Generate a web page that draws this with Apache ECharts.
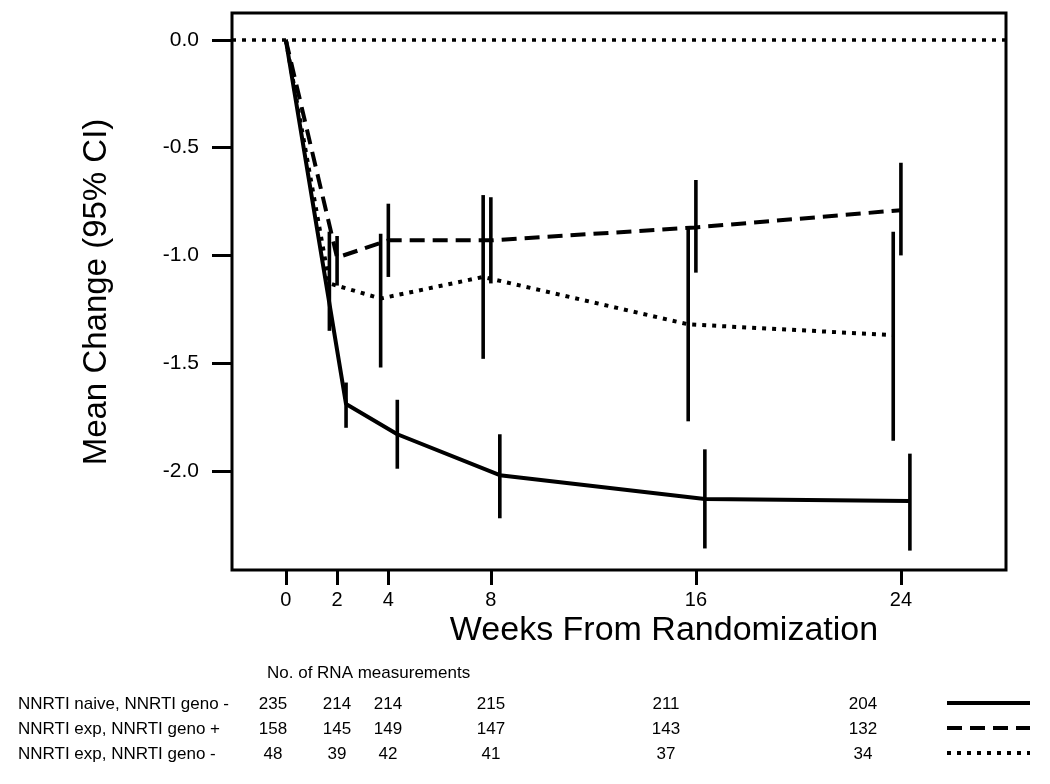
<!DOCTYPE html>
<html>
<head>
<meta charset="utf-8">
<script src="https://cdn.jsdelivr.net/npm/echarts@6/dist/echarts.min.js"></script>
<style>
  html, body { margin: 0; padding: 0; background: #fff; }
  #main { width: 1050px; height: 784px; }
</style>
</head>
<body>
<div id="main"></div>
<script>
// ---------------- data ----------------
const weeks = [0, 2, 4, 8, 16, 24];
const weekTickLabels = ['0', '2', '4', '8', '16', '24'];
const yTickValues = [0, -0.5, -1.0, -1.5, -2.0];

const groupNames = ['NNRTI naive, NNRTI geno -', 'NNRTI exp, NNRTI geno +', 'NNRTI exp, NNRTI geno -'];

// NNRTI naive, NNRTI geno - (solid)
const naiveMean = [0, -1.69, -1.83, -2.02, -2.13, -2.14];
const naiveLow  = [null, -1.80, -1.99, -2.22, -2.36, -2.37];
const naiveHigh = [null, -1.59, -1.67, -1.83, -1.90, -1.92];

// NNRTI exp, NNRTI geno + (dashed)
const expPosMean = [0, -1.01, -0.93, -0.93, -0.87, -0.79];
const expPosLow  = [null, -1.14, -1.10, -1.13, -1.08, -1.00];
const expPosHigh = [null, -0.91, -0.76, -0.73, -0.65, -0.57];

// NNRTI exp, NNRTI geno - (dotted)
const expNegMean = [0, -1.13, -1.20, -1.10, -1.32, -1.37];
const expNegLow  = [null, -1.35, -1.52, -1.48, -1.77, -1.86];
const expNegHigh = [null, -0.89, -0.90, -0.72, -0.87, -0.89];

// No. of RNA measurements
const naiveCounts  = [235, 214, 214, 215, 211, 204];
const expPosCounts = [158, 145, 149, 147, 143, 132];
const expNegCounts = [48, 39, 42, 41, 37, 34];

// ---------------- chart ----------------
const FONT = "'Liberation Sans', Arial, Helvetica, sans-serif";
const chart = echarts.init(document.getElementById('main'), null, { renderer: 'canvas' });

const DASH = [15, 8];
const DOT = [4, 6];

function meanSeries(means, offset, dashType) {
  return {
    type: 'line',
    data: weeks.map((w, i) => [i === 0 ? w : w + offset, means[i]]),
    symbol: 'none',
    lineStyle: { color: '#000', width: 4, type: dashType, cap: 'butt' },
    z: 3,
    silent: true
  };
}

function barSeries(low, high, offset) {
  const data = [];
  weeks.forEach((w, i) => {
    if (low[i] != null) data.push([w + offset, low[i], high[i]]);
  });
  return {
    type: 'custom',
    data: data,
    encode: { x: 0, y: [1, 2] },
    silent: true,
    z: 4,
    renderItem: function (params, api) {
      const p1 = api.coord([api.value(0), api.value(1)]);
      const p2 = api.coord([api.value(0), api.value(2)]);
      return {
        type: 'line',
        shape: { x1: p1[0], y1: p1[1], x2: p2[0], y2: p2[1] },
        style: { stroke: '#000', lineWidth: 3.6 }
      };
    }
  };
}

const tableCols = [273, 337, 388, 491, 666, 863];
const tableRows = [704, 729, 754];
const countRows = [naiveCounts, expPosCounts, expNegCounts];
const legendDash = [null, DASH, DOT];
const TABLE_FONT = '17px ' + FONT;

const graphics = [];
graphics.push({
  type: 'text', x: 664, y: 631,
  style: { text: 'Weeks From Randomization', font: '34px ' + FONT, fill: '#000', textAlign: 'center', textVerticalAlign: 'middle' }
});
graphics.push({
  type: 'text', x: 97, y: 292, rotation: Math.PI / 2,
  style: { text: 'Mean Change (95% CI)', font: '33px ' + FONT, fill: '#000', textAlign: 'center', textVerticalAlign: 'middle' }
});
graphics.push({
  type: 'text', x: 267, y: 673,
  style: { text: 'No. of RNA measurements', font: TABLE_FONT, fill: '#000', textAlign: 'left', textVerticalAlign: 'middle' }
});
groupNames.forEach((name, r) => {
  graphics.push({
    type: 'text', x: 18, y: tableRows[r],
    style: { text: name, font: TABLE_FONT, fill: '#000', textAlign: 'left', textVerticalAlign: 'middle' }
  });
  countRows[r].forEach((c, k) => {
    graphics.push({
      type: 'text', x: tableCols[k], y: tableRows[r],
      style: { text: String(c), font: TABLE_FONT, fill: '#000', textAlign: 'center', textVerticalAlign: 'middle' }
    });
  });
  graphics.push({
    type: 'line',
    shape: { x1: 947, y1: tableRows[r] - 1, x2: 1030, y2: tableRows[r] - 1 },
    style: { stroke: '#000', lineWidth: 4, lineDash: legendDash[r], lineCap: 'butt' }
  });
});

const option = {
  animation: false,
  backgroundColor: '#fff',
  grid: {
    left: 232, top: 13, right: 44, bottom: 214,
    show: true, borderColor: '#000', borderWidth: 3, backgroundColor: 'transparent'
  },
  xAxis: {
    type: 'value',
    min: -2.1, max: 28.1,
    splitLine: { show: false },
    axisLine: { show: false, onZero: false },
    axisTick: { show: true, customValues: weeks, length: 15, lineStyle: { color: '#000', width: 3 } },
    axisLabel: {
      customValues: weeks, margin: 20, fontSize: 20, color: '#000', fontFamily: FONT,
      formatter: function (v) { return weekTickLabels[weeks.indexOf(v)] || String(v); }
    }
  },
  yAxis: {
    type: 'value',
    min: -2.46, max: 0.125,
    splitLine: { show: false },
    axisLine: { show: false, onZero: false },
    axisTick: { show: true, customValues: yTickValues, length: 20, lineStyle: { color: '#000', width: 3 } },
    axisLabel: {
      customValues: yTickValues, margin: 33, fontSize: 21, color: '#000', fontFamily: FONT,
      formatter: function (v) { return (Math.abs(v) < 1e-9 ? 0 : v).toFixed(1); }
    }
  },
  series: [
    Object.assign(meanSeries(naiveMean, 0.35, 'solid'), {
      markLine: {
        silent: true, symbol: 'none', label: { show: false },
        lineStyle: { color: '#000', width: 3.5, type: DOT, cap: 'butt' },
        data: [{ yAxis: 0 }]
      }
    }),
    meanSeries(expPosMean, 0.0, DASH),
    meanSeries(expNegMean, -0.3, DOT),
    barSeries(naiveLow, naiveHigh, 0.35),
    barSeries(expPosLow, expPosHigh, 0.0),
    barSeries(expNegLow, expNegHigh, -0.3)
  ],
  graphic: graphics
};

chart.setOption(option);
</script>
</body>
</html>
